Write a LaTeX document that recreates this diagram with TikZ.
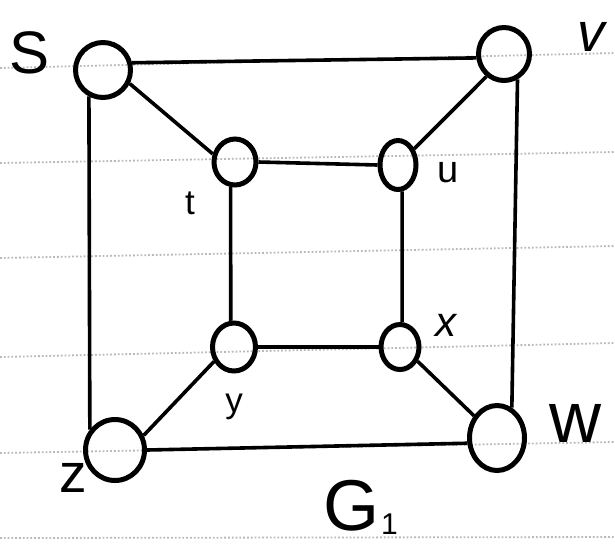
\documentclass[tikz,border=0pt]{standalone}
\usepackage{fontspec}
\setmainfont{Liberation Sans}
\usetikzlibrary{shapes.geometric}
\begin{document}
\begin{tikzpicture}[x=1pt,y=-1pt,
  vert/.style={draw, line width=5pt, ellipse, inner sep=0pt},
  edge/.style={line width=3.6pt},
  paper/.style={gray!55, dotted, line width=1.8pt},
  lbl/.style={inner sep=0pt}]
\useasboundingbox (0,0) rectangle (615,547);
% ruled paper lines
\coordinate (p1l) at (0,68);  \coordinate (p1r) at (615,53);
\coordinate (p2l) at (0,163); \coordinate (p2r) at (615,152);
\coordinate (p3l) at (0,258); \coordinate (p3r) at (615,246);
\coordinate (p4l) at (0,357); \coordinate (p4r) at (615,343);
\coordinate (p5l) at (0,453); \coordinate (p5r) at (615,442);
\coordinate (p6l) at (0,538); \coordinate (p6r) at (615,537);
\foreach \i in {1,...,6} \draw[paper] (p\i l) -- (p\i r);
% vertices
\node[vert, minimum width=55pt, minimum height=55pt] (s) at (103,70) {};
\node[vert, minimum width=51pt, minimum height=53pt] (v) at (504,54) {};
\node[vert, minimum width=42pt, minimum height=46pt] (t) at (235,162) {};
\node[vert, minimum width=36pt, minimum height=49pt] (u) at (398,165) {};
\node[vert, minimum width=43pt, minimum height=48pt] (y) at (234,347) {};
\node[vert, minimum width=38pt, minimum height=45pt] (x) at (400,347) {};
\node[vert, minimum width=59pt, minimum height=61pt] (z) at (115,450) {};
\node[vert, minimum width=55pt, minimum height=65pt] (w) at (497,438) {};
% edges
\draw[edge] (s.14) -- (v.188);
\draw[edge] (s.-27) -- (t.160);
\draw[edge] (v.232) -- (u.45);
\draw[edge] (s.242) -- (z.141);
\draw[edge] (v.-62) -- (w.64);
\draw[edge] (t.east) -- (u.west);
\draw[edge] (t.-100) -- (y.97);
\draw[edge] (u.-81) -- (x.85);
\draw[edge] (y.east) -- (x.west);
\draw[edge] (y.216) -- (z.27);
\draw[edge] (x.-39) -- (w.136);
\draw[edge] (z.east) -- (w.190);
% labels
\node[lbl, font=\fontsize{60}{60}\selectfont] (ls) at (30,53) {S};
\node[lbl, font=\fontsize{55}{55}\selectfont\itshape] (lv) at (591,37) {v};
\node[lbl, font=\fontsize{35}{35}\selectfont] (lt) at (190,203) {t};
\node[lbl, font=\fontsize{38}{38}\selectfont] (lu) at (448,173) {u};
\node[lbl, font=\fontsize{42}{42}\selectfont\itshape] (lx) at (446,325) {x};
\node[lbl, font=\fontsize{35}{35}\selectfont] (ly) at (234,407) {y};
\node[lbl, font=\fontsize{55}{55}\selectfont] (lz) at (73,478) {z};
\node[lbl, font=\fontsize{72}{72}\selectfont] (lw) at (575,423) {w};
\node[lbl, anchor=base west, font=\fontsize{72}{72}\selectfont] (lg) at (323,530)
  {G\hspace{2pt}\raisebox{-4pt}{\fontsize{30}{30}\selectfont 1}};
\end{tikzpicture}
\end{document}
